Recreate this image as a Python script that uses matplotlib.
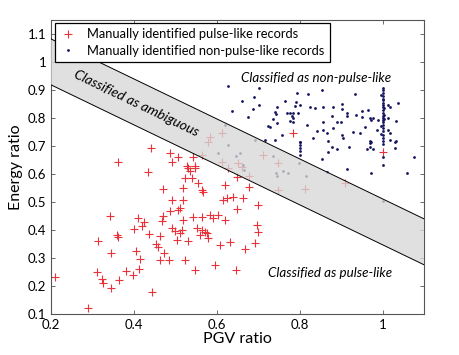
import numpy as np
import matplotlib
matplotlib.use("Agg")
import matplotlib.pyplot as plt
from matplotlib.ticker import FuncFormatter

plt.rcParams['font.family'] = ['Lato', 'DejaVu Sans']

# pulse-like records (PGV ratio, energy ratio)
pulse_pgv = [0.361, 0.441, 0.434, 0.487, 0.506, 0.492, 0.528, 0.535, 0.547, 0.523,
             0.540, 0.583, 0.578, 0.612, 0.612, 0.564, 0.470, 0.492, 0.487, 0.506,
             0.342, 0.410, 0.470, 0.424, 0.419, 0.467, 0.400, 0.436, 0.463, 0.499,
             0.359, 0.361, 0.313, 0.345, 0.405, 0.453, 0.458, 0.472, 0.484, 0.414,
             0.412, 0.398, 0.381, 0.210, 0.311, 0.323, 0.325, 0.364, 0.345, 0.443,
             0.289, 0.518, 0.518, 0.554, 0.564, 0.619, 0.614, 0.624, 0.619, 0.511,
             0.518, 0.492, 0.516, 0.511, 0.542, 0.564, 0.552, 0.559, 0.564, 0.576,
             0.578, 0.583, 0.590, 0.602, 0.607, 0.631, 0.504, 0.523, 0.547, 0.595,
             0.463, 0.783, 0.627, 0.651, 0.660, 0.711, 0.747, 0.677, 0.747, 0.542,
             0.530, 0.547, 0.566, 0.677, 0.639, 0.663, 0.699, 0.648, 0.812, 0.908,
             0.696, 0.699, 0.692, 0.667, 0.646, 0.530, 0.571, 1.000, 0.648]
pulse_energy = [0.643, 0.693, 0.607, 0.675, 0.661, 0.643, 0.629, 0.611, 0.629, 0.586,
                0.586, 0.732, 0.714, 0.746, 0.643, 0.668, 0.546, 0.507, 0.468, 0.471,
                0.450, 0.443, 0.450, 0.429, 0.414, 0.432, 0.404, 0.386, 0.379, 0.396,
                0.382, 0.375, 0.361, 0.318, 0.325, 0.350, 0.339, 0.318, 0.293, 0.296,
                0.261, 0.239, 0.254, 0.232, 0.250, 0.225, 0.211, 0.221, 0.193, 0.179,
                0.121, 0.507, 0.550, 0.568, 0.543, 0.561, 0.507, 0.514, 0.436, 0.479,
                0.436, 0.407, 0.400, 0.389, 0.446, 0.446, 0.407, 0.382, 0.400, 0.389,
                0.371, 0.454, 0.443, 0.454, 0.346, 0.357, 0.364, 0.293, 0.257, 0.275,
                0.293, 0.746, 0.621, 0.639, 0.625, 0.668, 0.639, 0.593, 0.543, 0.661,
                0.621, 0.621, 0.536, 0.554, 0.518, 0.514, 0.489, 0.475, 0.546, 0.568,
                0.418, 0.393, 0.354, 0.332, 0.257, 0.361, 0.393, 0.679, 0.589]

# non-pulse-like records
nonpulse_pgv = [0.627, 0.701, 0.660, 0.689, 0.701, 0.636, 0.687, 0.675, 0.745, 0.740,
                0.742, 0.735, 0.723, 0.745, 0.764, 0.793, 0.790, 0.800, 0.788, 0.769,
                0.776, 0.783, 0.781, 0.783, 0.776, 0.783, 0.795, 0.819, 0.824, 0.817,
                0.831, 0.800, 0.740, 0.757, 0.619, 0.692, 0.853, 0.933, 0.836, 0.855,
                0.880, 0.901, 0.901, 0.913, 0.913, 0.949, 0.964, 1.036, 1.012, 1.017,
                0.877, 0.855, 0.889, 0.899, 0.935, 0.949, 0.969, 0.973, 0.976, 0.988,
                1.012, 1.031, 0.841, 0.855, 0.865, 0.880, 0.928, 0.945, 0.957, 0.986,
                1.012, 1.017, 0.901, 0.904, 0.867, 0.969, 0.969, 1.017, 1.031,
                1.000, 1.000, 1.000, 1.000, 1.000, 1.000, 1.000, 1.000, 1.000, 1.000,
                1.000, 1.000, 1.000, 1.000, 1.000, 1.000, 1.000, 1.000, 1.000, 1.000,
                1.000, 1.000, 1.000, 1.000, 0.997, 1.003, 0.997, 1.003, 0.997, 1.003,
                0.627, 0.602, 0.646, 0.655, 0.663, 0.665, 0.735, 0.742, 0.745, 0.759,
                0.771, 0.798, 0.814, 0.800, 0.800, 0.800, 0.800, 0.800, 0.716, 0.728,
                0.877, 0.867, 0.889, 0.918, 0.961, 0.969, 0.976, 0.971, 1.029, 1.029,
                1.075, 0.853, 0.913, 0.973, 1.058, 1.000, 0.865]
nonpulse_energy = [0.914, 0.907, 0.861, 0.875, 0.846, 0.825, 0.832, 0.804, 0.839, 0.821,
                   0.814, 0.796, 0.771, 0.782, 0.861, 0.889, 0.857, 0.846, 0.843, 0.818,
                   0.818, 0.818, 0.807, 0.800, 0.789, 0.786, 0.818, 0.886, 0.839, 0.775,
                   0.729, 0.714, 0.721, 0.739, 0.775, 0.721, 0.900, 0.886, 0.836, 0.839,
                   0.839, 0.850, 0.832, 0.818, 0.807, 0.825, 0.829, 0.854, 0.846, 0.839,
                   0.807, 0.786, 0.786, 0.786, 0.811, 0.804, 0.800, 0.793, 0.800, 0.793,
                   0.800, 0.789, 0.754, 0.757, 0.746, 0.764, 0.750, 0.746, 0.768, 0.757,
                   0.757, 0.746, 0.739, 0.729, 0.718, 0.718, 0.711, 0.721, 0.718,
                   0.907, 0.900, 0.889, 0.879, 0.868, 0.864, 0.854, 0.846, 0.839, 0.829,
                   0.818, 0.807, 0.800, 0.793, 0.786, 0.775, 0.764, 0.754, 0.739, 0.729,
                   0.718, 0.707, 0.661, 0.632, 0.882, 0.811, 0.771, 0.836, 0.743, 0.796,
                   0.704, 0.675, 0.664, 0.675, 0.632, 0.614, 0.664, 0.604, 0.593, 0.611,
                   0.604, 0.639, 0.593, 0.714, 0.704, 0.693, 0.682, 0.668, 0.721, 0.768,
                   0.696, 0.679, 0.689, 0.696, 0.689, 0.696, 0.689, 0.714, 0.714, 0.693,
                   0.661, 0.654, 0.618, 0.604, 0.604, 0.504, 0.607]

# ambiguous band: energy = intercept + slope * pgv
band_slope = -0.714
band_low = 1.061
band_high = 1.225

fig = plt.figure(figsize=(4.6, 3.55), dpi=100)
ax = fig.add_axes([0.111, 0.1155, 0.811, 0.8282])

ax.plot(pulse_pgv, pulse_energy, linestyle='none', marker='+', markersize=6,
        markeredgewidth=0.8, color='#e8333b', zorder=2,
        label='Manually identified pulse-like records')
ax.plot(nonpulse_pgv, nonpulse_energy, linestyle='none', marker='o', markersize=2.0,
        markeredgewidth=0, color='#14145e', zorder=2,
        label='Manually identified non-pulse-like records')

xs = np.array([0.2, 1.1])
ax.fill_between(xs, band_low + band_slope * xs, band_high + band_slope * xs,
                facecolor='#d8d8d8', alpha=0.78, edgecolor='none', zorder=3)
ax.plot(xs, band_low + band_slope * xs, color='black', lw=0.7, zorder=4)
ax.plot(xs, band_high + band_slope * xs, color='black', lw=0.7, zorder=4)

ax.text(0.405, 0.853, 'Classified as ambiguous', style='italic', fontsize=10,
        rotation=-25.7, rotation_mode='anchor', ha='center', va='center', zorder=5)
ax.text(0.84, 0.943, 'Classified as non-pulse-like', style='italic', fontsize=9.6,
        ha='center', va='center', zorder=5)
ax.text(0.872, 0.246, 'Classified as pulse-like', style='italic', fontsize=9.6,
        ha='center', va='center', zorder=5)

ax.set_xlim(0.2, 1.1)
ax.set_ylim(0.1, 1.15)
ax.set_xticks([0.2, 0.4, 0.6, 0.8, 1.0])
ax.set_yticks(np.arange(1, 12) / 10)
fmt = FuncFormatter(lambda v, p: '%g' % v)
ax.xaxis.set_major_formatter(fmt)
ax.yaxis.set_major_formatter(fmt)
ax.tick_params(direction='in', top=True, right=True, length=3, width=0.6,
               color='#555555', labelsize=9.5)
for s in ax.spines.values():
    s.set_color('#555555')
    s.set_linewidth(0.8)

ax.set_xlabel('PGV ratio', fontsize=11.5, labelpad=1)
ax.set_ylabel('Energy ratio', fontsize=11.5, labelpad=3)

leg = ax.legend(loc='upper left', bbox_to_anchor=(0.01, 0.99), borderaxespad=0,
                fontsize=9.3, fancybox=False, framealpha=1, edgecolor='black',
                handlelength=1.2, handletextpad=0.9, borderpad=0.4, labelspacing=0.35)
leg.get_frame().set_linewidth(0.9)
leg.set_zorder(6)

fig.savefig('out.png', dpi=100)
